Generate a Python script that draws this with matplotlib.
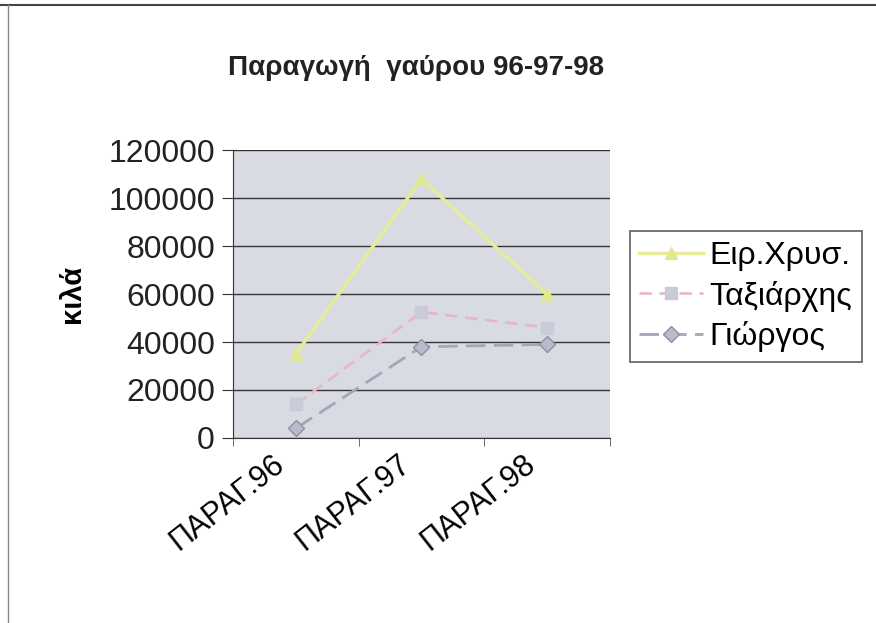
import matplotlib.pyplot as plt
import matplotlib.transforms as mtransforms
from matplotlib.lines import Line2D

plt.rcParams['font.family'] = ['Liberation Sans', 'DejaVu Sans']

# data
categories = ["ΠΑΡΑΓ.96", "ΠΑΡΑΓ.97", "ΠΑΡΑΓ.98"]
eir_xrys = [35000, 108000, 60000]
taxiarxis = [14000, 52500, 46000]
giorgos = [4000, 38000, 39000]
series_names = ["Ειρ.Χρυσ.", "Ταξιάρχης", "Γιώργος"]

fig = plt.figure(figsize=(8.76, 6.23), dpi=100)
ax = fig.add_axes([0.266, 0.297, 0.43, 0.462])
ax.set_facecolor("#d9dbe2")

x = list(range(len(categories)))
ax.plot(x, eir_xrys, color="#e6eb9c", lw=2.5, marker="^", ms=9,
        mfc="#e2e890", mec="#e2e890", label=series_names[0], zorder=3)
ax.plot(x, taxiarxis, color="#e8b4c6", lw=1.8, ls=(0, (5, 3)), marker="s", ms=8,
        mfc="#c9cbd8", mec="#c9cbd8", label=series_names[1], zorder=3)
ax.plot(x, giorgos, color="#a3a7bc", lw=2, ls=(0, (7, 3)), marker="D", ms=8,
        mfc="#b8bbc8", mec="#8d90a3", label=series_names[2], zorder=3)

ax.set_xlim(-0.5, len(categories) - 0.5)
ax.set_ylim(0, 120000)
ax.set_yticks(range(0, 120001, 20000))
ax.yaxis.grid(True, color="#333333", lw=1)
ax.set_axisbelow(True)
ax.tick_params(axis="y", labelsize=23, length=8, pad=5, color="#333333", labelcolor="#222222")

ax.set_xticks(x)
ax.set_xticklabels(categories, rotation=38, ha="right", rotation_mode="anchor", fontsize=22)
ax.set_xticks([i + 0.5 for i in range(-1, len(categories))], minor=True)
ax.tick_params(axis="x", which="major", length=0, pad=8)
ax.tick_params(axis="x", which="minor", length=6, color="#555555")
shift = mtransforms.ScaledTranslation(-24 / 100, 0, fig.dpi_scale_trans)
for lab in ax.get_xticklabels():
    lab.set_transform(lab.get_transform() + shift)

for side in ["top", "right"]:
    ax.spines[side].set_visible(False)
ax.spines["left"].set_color("#333333")
ax.spines["bottom"].set_color("#333333")

ax.set_ylabel("κιλά", fontsize=21, fontweight="bold", labelpad=16)
fig.text(0.475, 0.891, "Παραγωγή  γαύρου 96-97-98", fontsize=20,
         fontweight="bold", ha="center", va="center", color="#222222")

leg = fig.legend(loc="center left", bbox_to_anchor=(0.719, 0.524), fontsize=23,
                 frameon=True, fancybox=False, edgecolor="#333333",
                 handlelength=2.0, handletextpad=0.2, borderpad=0.3, labelspacing=0.3,
                 borderaxespad=0)
leg.get_frame().set_linewidth(1.2)

# scanned page frame lines
fig.add_artist(Line2D([0.0, 1.0], [0.992, 0.992], color="#444444", lw=1.5))
fig.add_artist(Line2D([0.009, 0.009], [0.0, 0.992], color="#888888", lw=1))

fig.savefig("out.png", dpi=100)
